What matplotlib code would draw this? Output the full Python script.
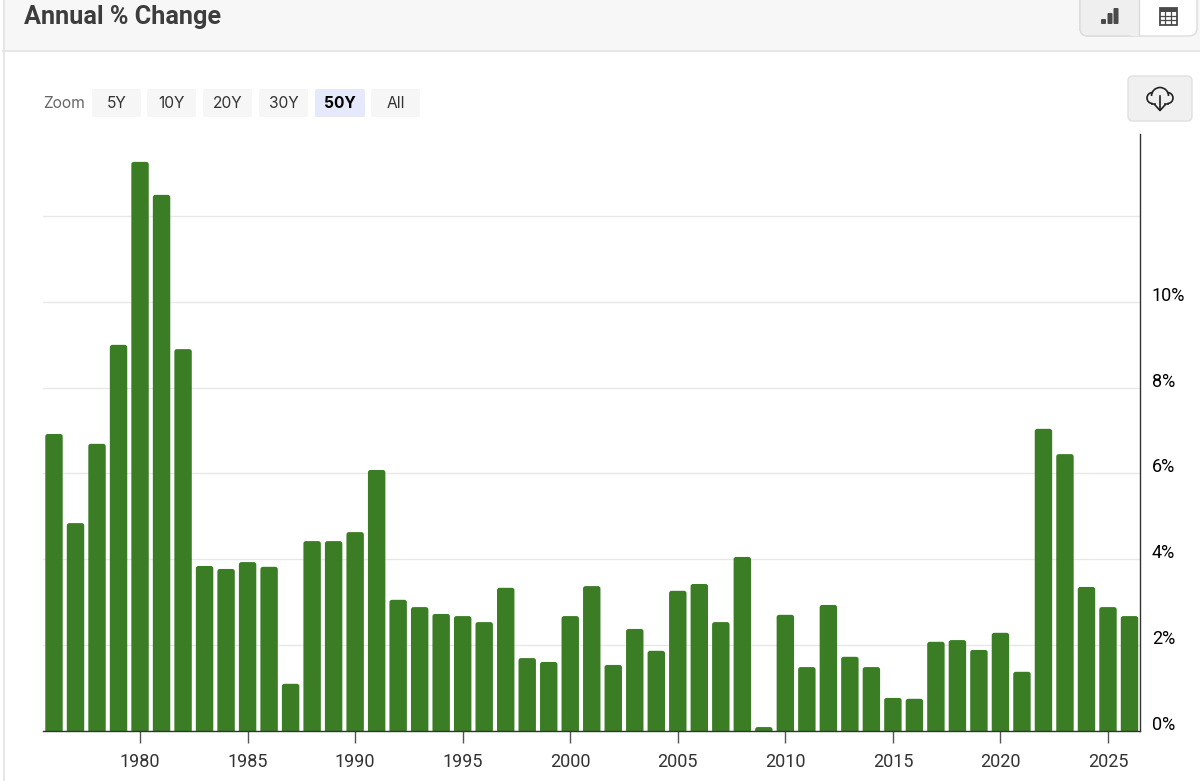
import numpy as np
import matplotlib
matplotlib.use("Agg")
import matplotlib.pyplot as plt
from matplotlib.patches import FancyBboxPatch, Rectangle, Arc
from matplotlib.transforms import ScaledTranslation

years = list(range(1976, 2027))
values = [6.92, 4.84, 6.69, 9.0, 13.27, 12.5, 8.9, 3.84, 3.77, 3.93, 3.82, 1.09, 4.42,
          4.42, 4.63, 6.08, 3.05, 2.88, 2.72, 2.67, 2.53, 3.33, 1.69, 1.6, 2.67, 3.37,
          1.53, 2.37, 1.86, 3.26, 3.42, 2.53, 4.05, 0.08, 2.7, 1.48, 2.93, 1.72, 1.48,
          0.76, 0.74, 2.07, 2.11, 1.88, 2.28, 1.37, 7.04, 6.45, 3.35, 2.88, 2.67]
x_ticks = list(range(1980, 2030, 5))
grid_values = [0, 2, 4, 6, 8, 10, 12]
y_labels = ["0%", "2%", "4%", "6%", "8%", "10%", ""]
zoom_labels = ["5Y", "10Y", "20Y", "30Y", "50Y", "All"]

GREEN = "#3a7d25"
W, H = 1200, 781

plt.rcParams['font.family'] = ['Inter', 'DejaVu Sans']
fig = plt.figure(figsize=(W / 100, H / 100), dpi=100, facecolor="white")

# page chrome, in pixel coordinates
bg = fig.add_axes([0, 0, 1, 1], zorder=0)
bg.set_xlim(0, W)
bg.set_ylim(H, 0)
bg.axis("off")


def box(x, y, w, h, color, r=3, edge="none", lw=0):
    bg.add_patch(FancyBboxPatch((x + r, y + r), w - 2 * r, h - 2 * r,
                                boxstyle=f"round,pad={r},rounding_size={r}",
                                fc=color, ec=edge, lw=lw))


bg.add_patch(Rectangle((3, 0), W, 50, fc="#f7f7f7", ec="none"))
bg.plot([3, W], [50.5, 50.5], color="#e3e3e3", lw=1.2)
bg.plot([3.5, 3.5], [0, H], color="#e3e3e3", lw=1.2)
bg.text(24, 17, "Annual % Change", family="Roboto", weight="bold", fontsize=18.2,
        color="#3d3d3d", va="center")

# chart / table switch
box(1080, -8, 117, 44, "white", r=8, edge="#dcdcdc", lw=1)
box(1080, -8, 59, 44, "#efefef", r=8, edge="#dcdcdc", lw=1)
bg.add_patch(Rectangle((1130, 0), 9, 36, fc="#efefef", ec="none"))
bg.plot([1138.5, 1138.5], [0, 35], color="#dcdcdc", lw=1)
for bx, by in [(1101, 19), (1107.5, 13), (1113.5, 8)]:
    box(bx, by, 5, 24 - by, "#4a4a4a", r=1)
bg.add_patch(Rectangle((1159.5, 7.5), 17, 17, fc="white", ec="#4a4a4a", lw=1.3))
bg.add_patch(Rectangle((1159.5, 7.5), 17, 4, fc="#4a4a4a", ec="none"))
for gx in [1165, 1171]:
    bg.plot([gx, gx], [11, 24], color="#4a4a4a", lw=0.9)
for gy in [15.5, 20]:
    bg.plot([1160, 1176], [gy, gy], color="#4a4a4a", lw=0.9)

# range selector
bx_left = [92, 147, 203, 259, 315, 371]
bx_width = [49, 49, 49, 49, 50, 49]
for lab, bx, bw in zip(zoom_labels, bx_left, bx_width):
    on = lab == "50Y"
    box(bx, 89, bw, 28, "#e6e9fb" if on else "#f6f6f6", r=2)
    bg.text(bx + bw / 2, 103, lab, ha="center", va="center", fontsize=11.2,
            color="black" if on else "#333333", weight="bold" if on else "normal")
bg.text(43, 103, "Zoom", va="center", fontsize=11.2, color="#666666")

# download button
box(1128, 76, 64, 45, "#f0f0f0", r=5, edge="#e0e0e0", lw=1)
icon = "#222222"
bg.add_patch(Arc((1160, 96), 17, 17, theta1=180, theta2=360, color=icon, lw=1.2))
bg.add_patch(Arc((1152.5, 98), 11, 11, theta1=90, theta2=270, color=icon, lw=1.2))
bg.add_patch(Arc((1167.5, 98), 11, 11, theta1=270, theta2=90, color=icon, lw=1.2))
bg.plot([1152, 1155], [103.5, 103.5], color=icon, lw=1.2)
bg.plot([1165, 1168], [103.5, 103.5], color=icon, lw=1.2)
bg.plot([1160, 1160], [96, 110], color=icon, lw=1.2)
bg.plot([1155, 1160, 1165], [105, 110.5, 105], color=icon, lw=1.2)

# chart
left, right, top, base = 43, 1140, 134, 730.5
ax = fig.add_axes([left / W, 1 - base / H, (right - left) / W, (base - top) / H], zorder=1)
ax.patch.set_alpha(0)
px_year = 21.51
px_unit = 42.85
ax.set_xlim(1976 + (left - 54) / px_year, 2026 + (right - 1129.5) / px_year)
ax.set_ylim(0, (base - top) / px_unit)

ax.set_yticks(grid_values)
ax.set_yticklabels(y_labels, family="Roboto")
ax.yaxis.tick_right()
ax.grid(axis="y", color="#e8e8e8", lw=1)
ax.set_axisbelow(True)
ax.tick_params(axis="y", length=0, pad=8.5, labelsize=13, labelcolor="black")
shift = ScaledTranslation(0, 8 / 100, fig.dpi_scale_trans)
for lab in ax.get_yticklabels():
    lab.set_transform(lab.get_transform() + shift)

ax.set_xticks(x_ticks)
ax.set_xticklabels(x_ticks, family="Roboto")
ax.tick_params(axis="x", length=8.5, width=1, color="#555555", pad=8, labelsize=13,
               labelcolor="#333333")

for s in ["top", "left"]:
    ax.spines[s].set_visible(False)
ax.spines["right"].set_color("#333333")
ax.spines["right"].set_linewidth(1)
ax.spines["bottom"].set_color("#333333")
ax.spines["bottom"].set_linewidth(1)

bars = ax.bar(years, values, width=0.81, color=GREEN)
r_x = 2.5 / px_year
for b in bars:
    # swap each bar for a copy with rounded corners, bottom corners hidden under the axis
    x0, w, h = b.get_x(), b.get_width(), b.get_height()
    ax.add_patch(FancyBboxPatch((x0, -0.15), w, h + 0.15,
                                boxstyle=f"round,pad=0,rounding_size={r_x}",
                                mutation_aspect=px_year / px_unit,
                                fc=GREEN, ec="none", zorder=2))
    b.remove()

fig.savefig("out.png", dpi=100)
